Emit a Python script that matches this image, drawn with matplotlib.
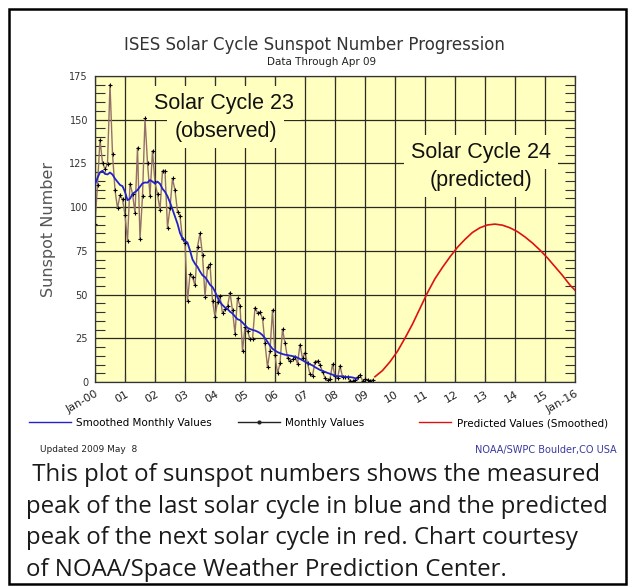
import numpy as np
import matplotlib
matplotlib.use("Agg")
import matplotlib.pyplot as plt
from matplotlib.lines import Line2D
from matplotlib.patches import Rectangle

# monthly sunspot numbers, Jan 2000 .. Apr 2009
monthly = [
    90.1, 112.9, 138.5, 125.5, 121.6, 124.9, 170.1, 130.5, 109.7, 99.4, 106.8, 104.4,
    95.6, 80.6, 113.5, 107.7, 96.6, 134.0, 81.8, 106.4, 150.7, 125.5, 106.5, 132.2,
    114.1, 107.4, 98.4, 120.7, 120.8, 88.3, 99.6, 116.4, 109.6, 97.5, 95.0, 81.6,
    79.5, 46.2, 61.5, 60.0, 55.2, 77.4, 85.0, 72.7, 48.8, 65.6, 67.3, 46.5,
    37.3, 45.8, 49.1, 39.3, 41.5, 43.2, 51.1, 40.9, 27.7, 48.0, 43.5, 17.9,
    31.3, 29.2, 24.5, 24.4, 42.6, 39.6, 39.9, 36.4, 22.1, 8.5, 18.0, 41.2,
    15.3, 4.9, 10.6, 30.2, 22.3, 13.9, 12.2, 12.9, 14.4, 10.5, 21.4, 13.6,
    16.8, 10.7, 4.5, 3.4, 11.7, 12.1, 9.7, 6.0, 2.4, 0.9, 1.7, 10.1,
    3.3, 2.1, 9.3, 2.9, 2.9, 3.1, 0.5, 0.5, 1.1, 2.9, 4.1, 0.8,
    1.5, 1.4, 0.7, 1.2,
]

# 13-month smoothed values, Jan 2000 .. Oct 2008
smoothed = [
    112.9, 116.8, 119.9, 120.8, 119.0, 118.7, 119.8, 118.6, 116.3, 114.5, 112.7, 112.0,
    108.7, 104.0, 104.8, 107.5, 108.6, 109.8, 111.7, 113.6, 114.1, 114.0, 115.5, 114.6,
    113.5, 114.6, 113.3, 110.5, 108.8, 106.2, 102.7, 98.7, 94.6, 90.5, 85.2, 82.0,
    80.8, 79.7, 75.2, 70.1, 67.6, 65.9, 63.2, 61.0, 60.0, 58.0, 55.6, 54.3,
    51.7, 48.4, 45.8, 44.0, 42.6, 41.8, 40.2, 39.2, 37.5, 35.9, 35.4, 34.0,
    32.5, 31.0, 30.3, 29.8, 29.4, 28.8, 28.0, 26.8, 25.0, 23.0, 20.8, 19.0,
    18.0, 17.1, 16.5, 16.0, 15.6, 15.4, 15.1, 14.8, 14.5, 13.9, 13.2, 12.4,
    11.6, 10.8, 10.1, 9.5, 8.5, 7.7, 6.9, 6.3, 5.8, 5.2, 4.7, 4.2,
    3.6, 3.3, 3.3, 3.2, 3.0, 2.8, 2.8, 2.6, 2.2, 1.8,
]

# predicted smoothed values
pred_years = [2009.33, 2009.58, 2009.83, 2010.08, 2010.33, 2010.58, 2010.83,
              2011.08, 2011.33, 2011.58, 2011.83, 2012.08, 2012.33, 2012.58,
              2012.83, 2013.08, 2013.33, 2013.58, 2013.83, 2014.08, 2014.33,
              2014.58, 2014.83, 2015.08, 2015.33, 2015.58, 2015.83, 2016.0]
pred_vals = [3.0, 6.5, 11.5, 17.5, 25.0, 33.0, 42.0,
             51.0, 59.0, 65.5, 71.5, 77.0, 81.5, 85.5,
             88.2, 89.8, 90.3, 89.7, 88.2, 86.0, 83.0,
             79.5, 75.5, 71.0, 66.0, 61.0, 55.5, 52.5]

year_ticks = list(range(2000, 2017))
year_labels = ["Jan-00"] + ["%02d" % (y - 2000) for y in range(2001, 2016)] + ["Jan-16"]

W, H = 633, 587
fig = plt.figure(figsize=(W / 100, H / 100), dpi=100)
fig.patch.set_facecolor("white")

def fx(px):
    return px / W

def fy(py):
    return 1 - py / H

ax = fig.add_axes([fx(95), fy(382), fx(575) - fx(95), fy(76) - fy(382)])
ax.set_facecolor("#ffffc0")
ax.set_axisbelow(True)

t_month = 2000 + np.arange(len(monthly)) / 12.0
t_smooth = 2000 + np.arange(len(smoothed)) / 12.0

ax.plot(t_month, monthly, "-", color="#94706a", lw=1.0, marker="+", ms=3.5,
        mec="black", mew=0.8, zorder=2)
ax.plot(t_smooth, smoothed, "-", color="#2222cc", lw=1.3, zorder=3)
ax.plot(pred_years, pred_vals, "-", color="#dd1111", lw=1.2, zorder=3)

ax.set_xlim(2000, 2016)
ax.set_ylim(0, 175)
ax.set_xticks(year_ticks)
ax.set_xticklabels(year_labels, rotation=30, ha="right", rotation_mode="anchor",
                   fontsize=8, color="#222222")
ax.set_yticks(range(0, 176, 25))
ax.set_yticks(range(0, 176, 5), minor=True)
ax.tick_params(axis="y", which="major", labelsize=7, labelcolor="#333333",
               length=0, pad=5)
ax.tick_params(axis="y", which="minor", direction="in", length=7, width=0.8,
               left=True, right=True, color="#333333")
ax.tick_params(axis="x", which="major", direction="in", length=6, top=True,
               pad=5, color="#333333")
ax.grid(True, which="major", color="#2a2a20", lw=0.9)
for s in ax.spines.values():
    s.set_color("#333333")
    s.set_linewidth(0.9)

ax.set_ylabel("Sunspot Number", fontsize=11.5, color="#555555")
ax.yaxis.set_label_coords((fx(56) - fx(95)) / (fx(575) - fx(95)), 0.5)

box = dict(facecolor="#ffffc0", edgecolor="none", pad=5)
ax.text(2004.3, 159.5, "Solar Cycle 23", fontsize=15.5, family="Liberation Sans",
        ha="center", va="center", color="#111111", bbox=box, zorder=4)
ax.text(2004.35, 143.5, "(observed)", fontsize=15.5, family="Liberation Sans",
        ha="center", va="center", color="#111111", bbox=box, zorder=4)
ax.text(2012.87, 131.5, "Solar Cycle 24", fontsize=15.5, family="Liberation Sans",
        ha="center", va="center", color="#111111", bbox=box, zorder=4)
ax.text(2012.87, 115.5, "(predicted)", fontsize=15.5, family="Liberation Sans",
        ha="center", va="center", color="#111111", bbox=box, zorder=4)

fig.text(fx(314), fy(45), "ISES Solar Cycle Sunspot Number Progression",
         fontsize=12, ha="center", va="center", color="#333333")
fig.text(fx(322), fy(62), "Data Through Apr 09", fontsize=7.5,
         ha="center", va="center", color="#222222")

h_s = Line2D([], [], color="#2222cc", lw=1.0)
h_m = Line2D([], [], color="#222222", lw=1.0, marker="o", ms=2)
h_p = Line2D([], [], color="#dd1111", lw=1.0)
fig.legend([h_s, h_m], ["Smoothed Monthly Values", "Monthly Values"],
           loc="center left", bbox_to_anchor=(fx(20), fy(423)), ncol=2,
           frameon=False, fontsize=7.5, handlelength=4, columnspacing=2.5,
           handletextpad=0.5)
fig.legend([h_p], ["Predicted Values (Smoothed)"], loc="center left",
           bbox_to_anchor=(fx(410), fy(423)), frameon=False, fontsize=7.5,
           handlelength=3, handletextpad=0.6)

fig.text(fx(40), fy(450), "Updated 2009 May  8", fontsize=6.5, ha="left",
         va="center", color="#222222")
fig.text(fx(617), fy(450), "NOAA/SWPC Boulder,CO USA", fontsize=7, ha="right",
         va="center", color="#3a3aa0")

caption = [" This plot of sunspot numbers shows the measured",
           "peak of the last solar cycle in blue and the predicted",
           "peak of the next solar cycle in red. Chart courtesy",
           "of NOAA/Space Weather Prediction Center."]
for i, line in enumerate(caption):
    fig.text(fx(26), fy(481 + 31.7 * i), line, fontsize=17.3, family="Open Sans",
             ha="left", va="baseline", color="#1a1a1a")

fig.add_artist(Rectangle((fx(9), fy(584)), fx(626) - fx(9), fy(9) - fy(584),
                         transform=fig.transFigure, fill=False,
                         edgecolor="black", lw=1.8))

fig.savefig("out.png", dpi=100)
